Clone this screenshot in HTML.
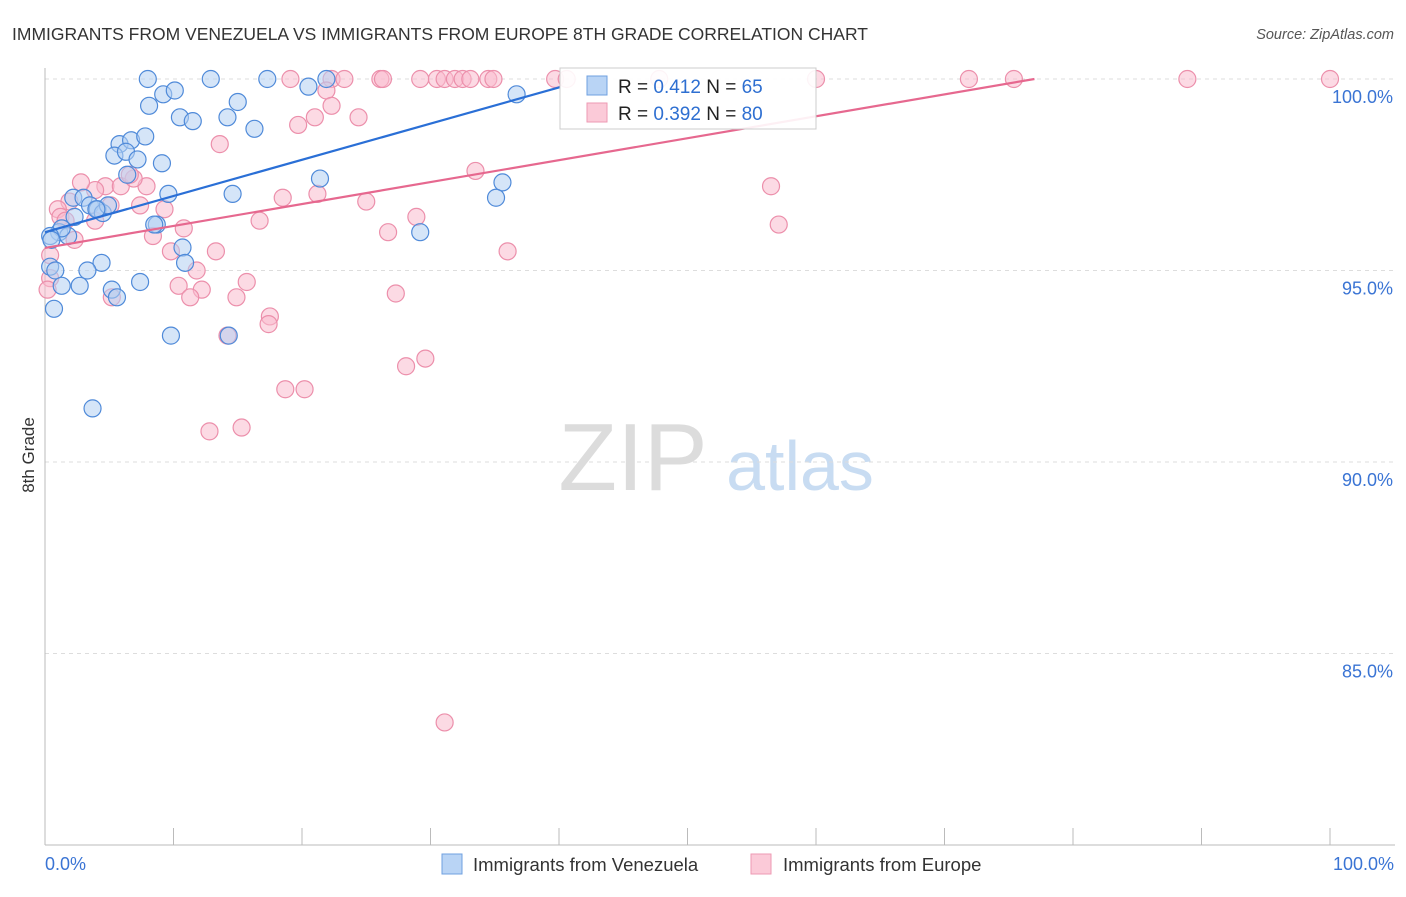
<!DOCTYPE html>
<html><head><meta charset="utf-8"><style>
body{margin:0;background:#fff;font-family:"Liberation Sans",sans-serif;}
svg text{font-family:"Liberation Sans",sans-serif;}
</style></head><body>
<svg id="chart" width="1406" height="892" xmlns="http://www.w3.org/2000/svg">
<text x="12" y="40" font-size="17.5" fill="#333">IMMIGRANTS FROM VENEZUELA VS IMMIGRANTS FROM EUROPE 8TH GRADE CORRELATION CHART</text>
<text x="1394" y="39" font-size="14.5" fill="#555" font-style="italic" text-anchor="end">Source: ZipAtlas.com</text>
<text x="34" y="455" font-size="17" fill="#333" text-anchor="middle" transform="rotate(-90 34 455)">8th Grade</text>
<g><text x="633" y="490" font-size="96" fill="#dcdcdc" font-family="Liberation Serif" text-anchor="middle">ZIP</text><text x="800" y="490" font-size="70" fill="#c8dcf2" text-anchor="middle">atlas</text></g>
<g id="grid"></g><g id="axes"></g><g id="pts"></g><g id="trend"></g>
<g>
<rect x="560" y="68" width="256" height="61" fill="#fff" fill-opacity="0.9" stroke="#ccc"/>
<rect x="587" y="76" width="20" height="19" fill="#b9d4f5" stroke="#6fa0e0"/>
<rect x="587" y="103" width="20" height="19" fill="#fbcad8" stroke="#ee9ab3"/>
<text x="618" y="93" font-size="19" fill="#222">R = <tspan fill="#2e6fd1">0.412</tspan>   N = <tspan fill="#2e6fd1">65</tspan></text>
<text x="618" y="120" font-size="19" fill="#222">R = <tspan fill="#2e6fd1">0.392</tspan>   N = <tspan fill="#2e6fd1">80</tspan></text>
</g>
<g>
<rect x="442" y="854" width="20" height="20" fill="#b9d4f5" stroke="#6fa0e0"/>
<text x="473" y="871" font-size="18.5" fill="#333">Immigrants from Venezuela</text>
<rect x="751" y="854" width="20" height="20" fill="#fbcad8" stroke="#ee9ab3"/>
<text x="783" y="871" font-size="18.5" fill="#333">Immigrants from Europe</text>
</g>
</svg>
<script>
const yTicks=[100,95,90,85];
const xTickLabels=["0.0%","100.0%"];
const blueX=[8.0,12.9,17.3,21.9,20.5,9.2,10.1,8.1,15.0,10.5,11.5,14.2,36.7,16.3,5.8,6.7,7.8,5.4,6.3,7.2,9.1,9.6,14.6,21.4,35.6,35.1,6.4,2.2,3.0,3.5,4.1,4.5,4.9,4.0,2.3,1.1,1.8,1.3,0.4,0.5,8.7,8.5,10.7,10.9,4.4,3.3,0.4,0.8,1.3,2.7,5.2,5.6,7.4,29.2,0.7,9.8,14.3,3.7];
const blueY=[100,100,100,100,99.8,99.6,99.7,99.3,99.4,99.0,98.9,99.0,99.6,98.7,98.3,98.4,98.5,98.0,98.1,97.9,97.8,97.0,97.0,97.4,97.3,96.9,97.5,96.9,96.9,96.7,96.6,96.5,96.7,96.6,96.4,96.0,95.9,96.1,95.9,95.8,96.2,96.2,95.6,95.2,95.2,95.0,95.1,95.0,94.6,94.6,94.5,94.3,94.7,96.0,94.0,93.3,93.3,91.4];
const pinkX=[19.1,22.3,23.3,26.1,26.3,29.2,30.5,31.1,31.9,32.5,33.1,34.5,34.9,39.7,40.6,47.8,60.0,71.9,75.4,88.9,100,21.9,22.3,24.4,21.0,19.7,13.6,33.5,56.5,7.9,4.7,3.9,5.9,6.9,2.8,1.9,1.0,1.2,18.5,21.2,25.0,28.9,16.7,8.4,9.3,10.8,26.7,36.0,57.1,13.3,9.8,11.8,10.4,12.2,11.3,15.7,14.9,5.2,17.5,17.4,27.3,18.7,20.2,28.1,29.6,14.2,12.8,15.3,31.1,0.4,0.4,0.2,1.6,3.9,5.1,2.3,7.4,6.6];
const pinkY=[100,100,100,100,100,100,100,100,100,100,100,100,100,100,100,100,100,100,100,100,100,99.7,99.3,99.0,99.0,98.8,98.3,97.6,97.2,97.2,97.2,97.1,97.2,97.4,97.3,96.8,96.6,96.4,96.9,97.0,96.8,96.4,96.3,95.9,96.6,96.1,96.0,95.5,96.2,95.5,95.5,95.0,94.6,94.5,94.3,94.7,94.3,94.3,93.8,93.6,94.4,91.9,91.9,92.5,92.7,93.3,90.8,90.9,83.2,95.4,94.8,94.5,96.3,96.3,96.7,95.8,96.7,97.5];
const blueTrend=[[0,96.0],[40.1,99.79]];
const pinkTrend=[[0,95.59],[77.0,100]];
const NS="http://www.w3.org/2000/svg";
const X=v=>45+v*12.85, Y=v=>79+(100-v)*38.3;
function mk(t,a,p){const e=document.createElementNS(NS,t);for(const k in a)e.setAttribute(k,a[k]);p.appendChild(e);return e;}
const grid=document.getElementById('grid'),axes=document.getElementById('axes');
yTicks.forEach(v=>{
 const l=mk('line',{x1:45,x2:1395,y1:Y(v),y2:Y(v),stroke:'#ddd','stroke-dasharray':'4,4'},grid);
 
 
 const t=mk('text',{x:1393,y:Y(v)+24,'font-size':18,fill:'#3a74d4','text-anchor':'end'},grid);
 t.textContent=v.toFixed(1)+'%';
 
 
});
const ax=mk('line',{x1:45,x2:45,y1:68,y2:845,stroke:'#bbb'},axes);


const bx=mk('line',{x1:45,x2:1395,y1:845,y2:845,stroke:'#bbb'},axes);


for(let i=0;i<=10;i++){const t=mk('line',{x1:X(i*10),x2:X(i*10),y1:828,y2:845,stroke:'#bbb'},axes);
 
 }
[[0,'start',45],[1,'end',1394]].forEach(([i,a,x])=>{const t=mk('text',{x:x,y:870,'font-size':18,fill:'#3a74d4','text-anchor':a},axes);t.textContent=xTickLabels[i];
 
 });
const pts=document.getElementById('pts');
function dots(xs,ys,fill,stroke,name){xs.forEach((x,i)=>{const c=mk('circle',{cx:X(x),cy:Y(ys[i]),r:8.5,fill:fill,'fill-opacity':0.55,stroke:stroke,'stroke-width':1.2},pts);
 
 });}
dots(pinkX,pinkY,'#f9bccd','#ec8fab','point-europe');
dots(blueX,blueY,'#b3cff3','#4f8ad9','point-venezuela');
const tr=document.getElementById('trend');
const b=mk('line',{x1:X(blueTrend[0][0]),y1:Y(blueTrend[0][1]),x2:X(blueTrend[1][0]),y2:Y(blueTrend[1][1]),stroke:'#2a6fd6','stroke-width':2.2},tr);


const p=mk('line',{x1:X(pinkTrend[0][0]),y1:Y(pinkTrend[0][1]),x2:X(pinkTrend[1][0]),y2:Y(pinkTrend[1][1]),stroke:'#e6688f','stroke-width':2.2},tr);


</script>
</body></html>
